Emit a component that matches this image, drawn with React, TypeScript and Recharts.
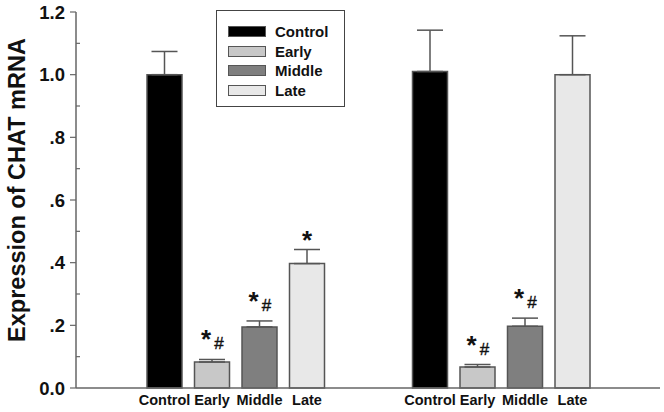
import { BarChart, Bar, XAxis, YAxis, ErrorBar, LabelList, Legend, Label } from "recharts";

const GROUPS = ["Group 1", "Group 2"];
const SERIES = ["Control", "Early", "Middle", "Late"];

const CONTROL = [1.0, 1.01];
const CONTROL_ERR = [0.074, 0.132];
const EARLY = [0.083, 0.067];
const EARLY_ERR = [0.008, 0.008];
const MIDDLE = [0.195, 0.197];
const MIDDLE_ERR = [0.019, 0.026];
const LATE = [0.397, 1.0];
const LATE_ERR = [0.045, 0.124];

const CONTROL_MARKS = ["", ""];
const EARLY_MARKS = ["*#", "*#"];
const MIDDLE_MARKS = ["*#", "*#"];
const LATE_MARKS = ["*", ""];

const Y_TICKS = [0, 0.1, 0.2, 0.3, 0.4, 0.5, 0.6, 0.7, 0.8, 0.9, 1.0, 1.1, 1.2];
const Y_LABELS = ["0.0", "", ".2", "", ".4", "", ".6", "", ".8", "", "1.0", "", "1.2"];

const COLORS = ["#000000", "#c8c8c8", "#7f7f7f", "#e8e8e8"];
const FONT = "'Liberation Sans', Arial, Helvetica, sans-serif";
const EDGE = "#555";

const data = GROUPS.map((g, i) => ({
  group: g,
  control: CONTROL[i],
  controlErr: [0, CONTROL_ERR[i]],
  early: EARLY[i],
  earlyErr: [0, EARLY_ERR[i]],
  middle: MIDDLE[i],
  middleErr: [0, MIDDLE_ERR[i]],
  late: LATE[i],
  lateErr: [0, LATE_ERR[i]],
}));

function YTick(props: any) {
  const { x, y, payload } = props;
  const i = payload.index;
  const major = i % 2 === 0;
  const ax = x + 11;
  return (
    <g>
      <line x1={ax} x2={major ? ax - 6 : ax + 4} y1={y} y2={y} stroke="#666" strokeWidth={1.2} />
      {major && (
        <text x={x} y={y + 6.5} textAnchor="end" fontFamily={FONT} fontWeight="bold" fontSize={18.5} fill="#111">
          {Y_LABELS[i]}
        </text>
      )}
    </g>
  );
}

// significance marks above the error bars
function marks(values: number[], errs: number[], labels: string[]) {
  return (props: any) => {
    const i = props.index;
    const text = labels[i];
    if (!text) return null;
    const x = Number(props.x);
    const y = Number(props.y);
    const w = Number(props.width);
    const h = Number(props.height);
    const top = y - errs[i] * (h / values[i]);
    const cx = x + w / 2;
    if (text === "*#") {
      return (
        <g fontFamily={FONT} fill="#111">
          <text x={cx - 6} y={top - 11} textAnchor="middle" fontSize={26} fontWeight="bold">*</text>
          <text x={cx + 7} y={top - 10} textAnchor="middle" fontSize={17} stroke="#111" strokeWidth={0.4}>#</text>
        </g>
      );
    }
    return (
      <text x={cx} y={top - 1} textAnchor="middle" fontSize={26} fontWeight="bold" fontFamily={FONT} fill="#111">
        *
      </text>
    );
  };
}

function LegendBox() {
  return (
    <div
      style={{
        boxSizing: "border-box",
        width: 129,
        height: 97,
        border: "1.5px solid #444",
        background: "#fff",
        padding: "11px 0 0 11px",
        fontFamily: FONT,
        fontWeight: "bold",
        fontSize: 15,
        color: "#111",
      }}
    >
      {SERIES.map((s, i) => (
        <div key={s} style={{ display: "flex", alignItems: "center", height: 19.5 }}>
          <span
            style={{
              display: "inline-block",
              boxSizing: "border-box",
              width: 38,
              height: 11,
              background: COLORS[i],
              border: `1.5px solid ${EDGE}`,
              marginRight: 9,
            }}
          />
          <span>{s}</span>
        </div>
      ))}
    </div>
  );
}

const bottomLabel = (name: string) => () => name;

export default function App() {
  return (
    <div style={{ position: "absolute", left: 0, top: 0, background: "#fff" }}>
      <BarChart
        width={664}
        height={412}
        data={data}
        margin={{ top: 12, right: 4, left: 0, bottom: 0 }}
        barSize={35}
        barGap={12.5}
      >
        <XAxis
          dataKey="group"
          tick={false}
          tickLine={false}
          height={24}
          padding={{ left: 27, right: 26 }}
          axisLine={{ stroke: "#666", strokeWidth: 1.5 }}
        />
        <YAxis
          domain={[0, 1.2]}
          ticks={Y_TICKS}
          interval={0}
          width={76}
          tickSize={6}
          tickMargin={5}
          tickLine={false}
          tick={<YTick />}
          axisLine={{ stroke: "#666", strokeWidth: 1.5 }}
        >
          <Label
            content={() => (
              <text
                x={25}
                y={190}
                transform="rotate(-90, 25, 190)"
                textAnchor="middle"
                fontFamily={FONT}
                fontWeight="bold"
                fontSize={23.5}
                fill="#111"
              >
                Expression of CHAT mRNA
              </text>
            )}
          />
        </YAxis>
        <Legend
          layout="vertical"
          align="center"
          verticalAlign="middle"
          content={<LegendBox />}
          wrapperStyle={{ position: "absolute", left: 216, top: 10, width: 129, height: 97 }}
        />
        <Bar dataKey="control" fill={COLORS[0]} stroke={EDGE} strokeWidth={1.5} isAnimationActive={false}>
          <ErrorBar dataKey="controlErr" width={13} stroke={EDGE} strokeWidth={1.5} />
          <LabelList content={marks(CONTROL, CONTROL_ERR, CONTROL_MARKS)} />
          <LabelList position="bottom" offset={7} formatter={bottomLabel("Control")} fontFamily={FONT} fontWeight="bold" fontSize={14.5} fill="#111" />
        </Bar>
        <Bar dataKey="early" fill={COLORS[1]} stroke={EDGE} strokeWidth={1.5} isAnimationActive={false}>
          <ErrorBar dataKey="earlyErr" width={13} stroke={EDGE} strokeWidth={1.5} />
          <LabelList content={marks(EARLY, EARLY_ERR, EARLY_MARKS)} />
          <LabelList position="bottom" offset={7} formatter={bottomLabel("Early")} fontFamily={FONT} fontWeight="bold" fontSize={14.5} fill="#111" />
        </Bar>
        <Bar dataKey="middle" fill={COLORS[2]} stroke={EDGE} strokeWidth={1.5} isAnimationActive={false}>
          <ErrorBar dataKey="middleErr" width={13} stroke={EDGE} strokeWidth={1.5} />
          <LabelList content={marks(MIDDLE, MIDDLE_ERR, MIDDLE_MARKS)} />
          <LabelList position="bottom" offset={7} formatter={bottomLabel("Middle")} fontFamily={FONT} fontWeight="bold" fontSize={14.5} fill="#111" />
        </Bar>
        <Bar dataKey="late" fill={COLORS[3]} stroke={EDGE} strokeWidth={1.5} isAnimationActive={false}>
          <ErrorBar dataKey="lateErr" width={13} stroke={EDGE} strokeWidth={1.5} />
          <LabelList content={marks(LATE, LATE_ERR, LATE_MARKS)} />
          <LabelList position="bottom" offset={7} formatter={bottomLabel("Late")} fontFamily={FONT} fontWeight="bold" fontSize={14.5} fill="#111" />
        </Bar>
      </BarChart>
    </div>
  );
}
